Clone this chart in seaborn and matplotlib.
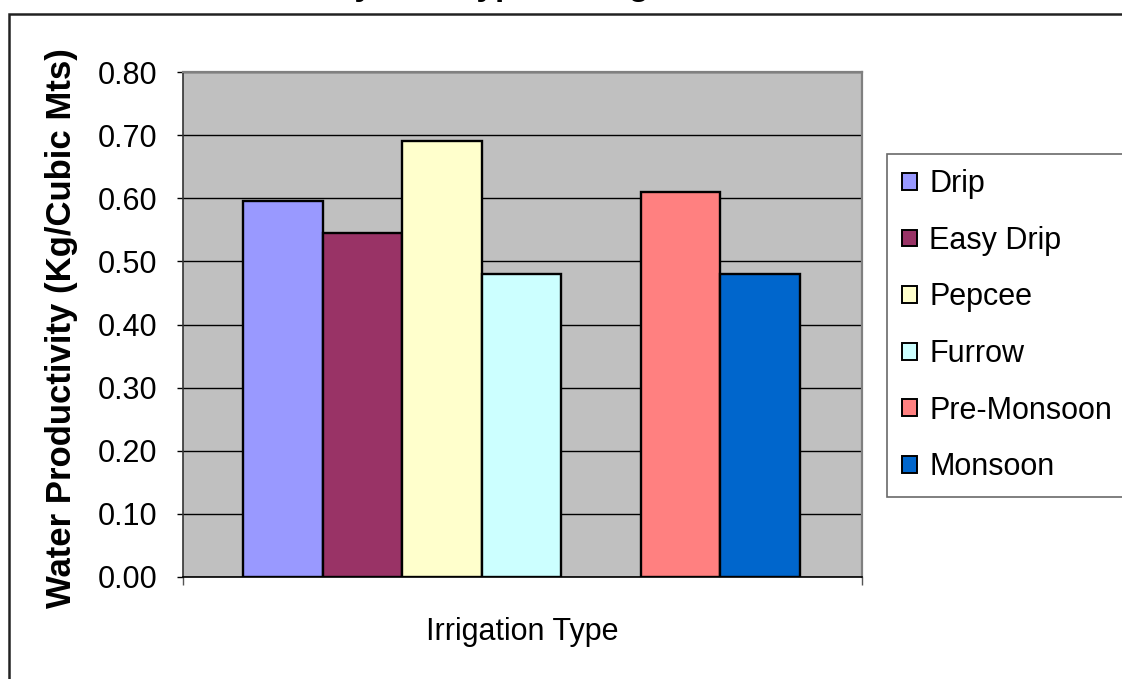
import matplotlib
matplotlib.use("Agg")
import matplotlib.pyplot as plt
from matplotlib.patches import Patch, Rectangle
import pandas as pd
import seaborn as sns

# Water productivity by irrigation method (Kg per cubic metre)
methods = ["Drip", "Easy Drip", "Pepcee", "Furrow", "Pre-Monsoon", "Monsoon"]
productivity = [0.595, 0.545, 0.69, 0.48, 0.61, 0.48]
colors = ["#9999FF", "#993366", "#FFFFCC", "#CCFFFF", "#FF8080", "#0066CC"]
y_ticks = [0.0, 0.1, 0.2, 0.3, 0.4, 0.5, 0.6, 0.7, 0.8]

title_text = "Water Productivity with Type of Irrigation"
x_title = "Irrigation Type"
y_title = "Water Productivity (Kg/Cubic Mts)"

# an empty slot separates the seasonal furrow results from the other methods
gap = " "
slot_order = methods[:4] + [gap] + methods[4:]

df = pd.DataFrame({"Irrigation": methods, "Productivity": productivity})
palette = dict(zip(methods, colors))

sns.set_theme(style="white")
plt.rcParams["font.family"] = ["Liberation Sans", "DejaVu Sans"]

W, H = 1122, 679
fig = plt.figure(figsize=(W / 100, H / 100), dpi=100)
fig.patch.set_facecolor("white")

def fx(px):
    return px / W

def fy(py):
    return 1 - py / H

ax = fig.add_axes([fx(183), fy(577), fx(862) - fx(183), fy(72) - fy(577)])
ax.set_facecolor("#C0C0C0")

sns.barplot(data=df, x="Irrigation", y="Productivity", hue="Irrigation",
            order=slot_order, hue_order=methods, palette=palette,
            saturation=1, dodge=False, width=1.0, edgecolor="black",
            linewidth=1.7, legend=False, ax=ax, zorder=3)

ax.set_ylim(0, 0.8)
x_lo, x_hi = -1.255, 7.28
ax.set_xlim(x_lo, x_hi)
ax.set_yticks(y_ticks)
ax.set_yticklabels([f"{v:.2f}" for v in y_ticks], fontsize=22)
ax.set_xticks([x_lo, x_hi])
ax.set_xticklabels(["", ""])
ax.set_xlabel("")
ax.set_ylabel("")
ax.yaxis.grid(True, color="black", linewidth=1.0, zorder=1)
ax.set_axisbelow(True)
ax.tick_params(axis="y", direction="out", length=4.5, width=1, color="black",
               pad=14, left=True, labelcolor="black")
ax.tick_params(axis="x", direction="out", length=6, width=1, color="#555555",
               bottom=True)

for side in ("top", "right"):
    ax.spines[side].set_color("#808080")
    ax.spines[side].set_linewidth(1.6)
ax.spines["left"].set_color("#333333")
ax.spines["left"].set_linewidth(1.2)
ax.spines["bottom"].set_color("black")
ax.spines["bottom"].set_linewidth(1.2)

# chart frame
fig.patches.append(Rectangle((fx(9), -0.2), 1.2, fy(14) + 0.2,
                             transform=fig.transFigure, fill=False,
                             edgecolor="#222222", linewidth=1.8, zorder=0))

# chart title sits mostly above the visible area
fig.text(fx(404), 1 + 5 / H, title_text, ha="center", va="baseline",
         fontsize=24, fontweight="bold", color="black")

fig.text(fx(522), fy(632), x_title, ha="center", va="center", fontsize=22,
         color="black")
fig.text(fx(62), fy(328), y_title, ha="center", va="center", rotation=90,
         fontsize=25, fontweight="bold", color="black")

handles = [Patch(facecolor=palette[m], edgecolor="black", linewidth=1.4)
           for m in methods]
leg = fig.legend(handles, methods, loc="upper left",
                 bbox_to_anchor=(fx(887), fy(154)), bbox_transform=fig.transFigure,
                 fontsize=22, frameon=True, fancybox=False, shadow=False,
                 borderpad=0.5, labelspacing=0.87, handlelength=0.47,
                 handleheight=0.47, handletextpad=0.42, borderaxespad=0,
                 labelcolor="black")
leg.get_frame().set_edgecolor("#444444")
leg.get_frame().set_linewidth(1.2)
leg.get_frame().set_facecolor("white")

fig.savefig("out.png", dpi=100, facecolor="white")
